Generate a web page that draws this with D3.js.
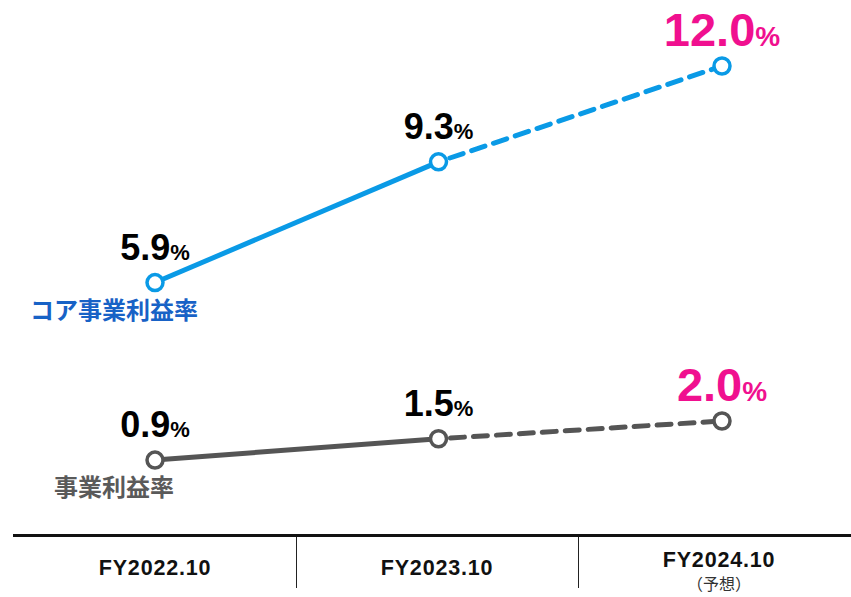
<!DOCTYPE html>
<html><head><meta charset="utf-8">
<script src="https://cdn.jsdelivr.net/npm/d3@7"></script>
<style>
html,body{margin:0;padding:0;background:#fff;}
svg{display:block;}
</style></head>
<body>
<svg id="chart" width="851" height="597"></svg>
<script>
const categories = ["FY2022.10", "FY2023.10", "FY2024.10"];
const subLabels = ["", "", "（予想）"];
const coreValues = [5.9, 9.3, 12.0];
const bizValues = [0.9, 1.5, 2.0];
const seriesNames = ["コア事業利益率", "事業利益率"];
const forecastIndex = 2;

const svg = d3.select("#chart");
const y = d3.scaleLinear().domain([0, 12]).range([492, 66]);
const xPt = d3.scalePoint().domain(categories).range([155, 722]);
const xBand = d3.scaleBand().domain(categories).range([14, 860]).padding(0);

const series = [
  {name: seriesNames[0], values: coreValues, color: "#0a9ae6", labelColor: "#1862c6"},
  {name: seriesNames[1], values: bizValues, color: "#555555", labelColor: "#5a5a5a"}
];
const pink = "#f0108f";
const fontLatin = "'Liberation Sans', Arial, sans-serif";
const fontCJK = "'Noto Sans CJK JP', 'Noto Sans', sans-serif";

series.forEach(s => {
  const pts = s.values.map((v, i) => [xPt(categories[i]), y(v)]);
  const g = svg.append("g");
  const line = d3.line();
  g.append("path").attr("d", line(pts.slice(0, 2)))
    .attr("fill", "none").attr("stroke", s.color).attr("stroke-width", 5);
  g.append("path").attr("d", line(pts.slice(1, 3)))
    .attr("fill", "none").attr("stroke", s.color).attr("stroke-width", 5)
    .attr("stroke-dasharray", "14 9").attr("stroke-dashoffset", -12).attr("stroke-linecap", "round");
  g.selectAll("circle").data(pts).join("circle")
    .attr("cx", d => d[0]).attr("cy", d => d[1]).attr("r", 8)
    .attr("fill", "#fff").attr("stroke", s.color).attr("stroke-width", 3.5);
  s.values.forEach((v, i) => {
    const isF = i === forecastIndex;
    const t = g.append("text")
      .attr("x", xPt(categories[i]))
      .attr("y", y(v) - (isF ? 20 : 23))
      .attr("text-anchor", "middle")
      .attr("font-family", fontLatin)
      .attr("font-weight", "bold")
      .attr("fill", isF ? pink : "#000");
    t.append("tspan").attr("font-size", isF ? 47 : 36).text(v.toFixed(1));
    t.append("tspan").attr("font-size", isF ? 28 : 22).text("%");
  });
  g.append("text")
    .attr("x", 114).attr("y", pts[0][1] + 36)
    .attr("text-anchor", "middle")
    .attr("font-family", fontCJK)
    .attr("font-weight", "bold")
    .attr("font-size", 24)
    .attr("fill", s.labelColor)
    .text(s.name);
});

// bottom table
svg.append("line").attr("x1", 13).attr("x2", 851).attr("y1", 535.5).attr("y2", 535.5)
  .attr("stroke", "#111").attr("stroke-width", 3);
categories.slice(1).forEach(c => {
  const xx = Math.round(xBand(c)) + 0.5;
  svg.append("line").attr("x1", xx).attr("x2", xx).attr("y1", 537).attr("y2", 588)
    .attr("stroke", "#222").attr("stroke-width", 1);
});
categories.forEach((c, i) => {
  const cx = xBand(c) + xBand.bandwidth() / 2;
  const hasSub = subLabels[i] !== "";
  svg.append("text").attr("x", cx).attr("y", hasSub ? 567 : 575)
    .attr("text-anchor", "middle").attr("font-family", fontLatin)
    .attr("font-weight", "bold").attr("font-size", 21.5).attr("letter-spacing", 0.8)
    .attr("fill", "#111").text(c);
  if (hasSub) {
    svg.append("text").attr("x", cx).attr("y", 590)
      .attr("text-anchor", "middle").attr("font-family", fontCJK)
      .attr("font-size", 16).attr("fill", "#333").text(subLabels[i]);
  }
});
</script>
</body></html>
